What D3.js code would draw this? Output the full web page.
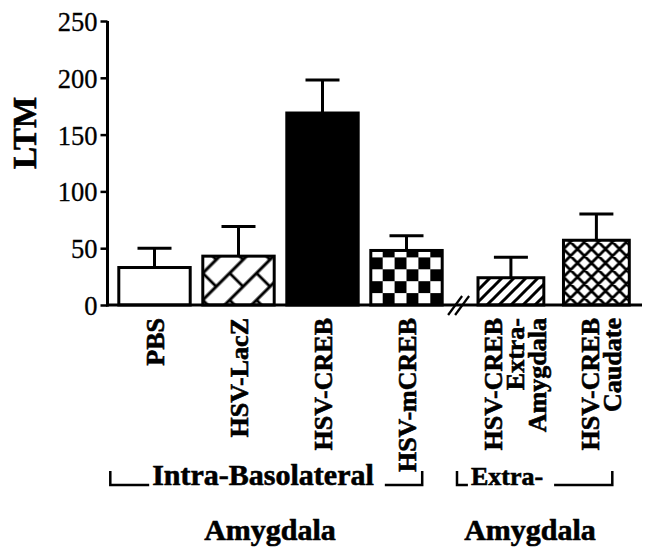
<!DOCTYPE html>
<html>
<head>
<meta charset="utf-8">
<script src="https://cdn.jsdelivr.net/npm/d3@7"></script>
<style>
  body { margin: 0; background: #fff; }
  svg { display: block; }
  text { font-family: "Liberation Serif", "Times New Roman", serif; fill: #000; }
</style>
</head>
<body>
<div id="chart"></div>
<script>
// values (LTM, mean and upward SEM)
var intraLabels = [['PBS'], ['HSV-LacZ'], ['HSV-CREB'], ['HSV-mCREB']];
var intraValues = [33, 43, 169, 48];
var intraErrors = [17, 26, 29, 13];

var extraLabels = [['HSV-CREB', 'Extra-', 'Amygdala'], ['HSV-CREB', 'Caudate']];
var extraValues = [24, 57];
var extraErrors = [18, 23];

var yTicks = [0, 50, 100, 150, 200, 250];
var groupTitles = [['Intra-Basolateral', 'Amygdala'], ['Extra-', 'Amygdala']];

var intraFills = ['#fff', 'url(#brick)', '#000', 'url(#checker)'];
var extraFills = ['url(#diag)', 'url(#cross)'];

var W = 646, H = 555;
var serif = '"Liberation Serif", "Times New Roman", serif';

var svg = d3.select('#chart').append('svg')
    .attr('width', W)
    .attr('height', H);

var y = d3.scaleLinear().domain([0, 250]).range([305, 21]);

var x1 = d3.scaleBand()
    .domain(d3.range(intraValues.length))
    .range([118.8, 442.2])
    .paddingInner(0.15)
    .paddingOuter(0);

var x2 = d3.scaleBand()
    .domain(d3.range(extraValues.length))
    .range([478, 629.3])
    .paddingInner(0.23)
    .paddingOuter(0);

// patterns
var defs = svg.append('defs');

var p = defs.append('pattern').attr('id', 'diag')
    .attr('patternUnits', 'userSpaceOnUse')
    .attr('width', 12).attr('height', 12);
p.append('path')
    .attr('d', 'M-3,15 L15,-3 M-3,3 L3,-3 M9,15 L15,9')
    .attr('stroke', '#000').attr('stroke-width', 3);

p = defs.append('pattern').attr('id', 'cross')
    .attr('patternUnits', 'userSpaceOnUse')
    .attr('x', x2(1)).attr('y', 305)
    .attr('width', 14).attr('height', 14);
p.append('path')
    .attr('d', 'M-2,16 L16,-2 M-2,2 L2,-2 M12,16 L16,12 M-2,-2 L16,16 M-2,12 L2,16 M12,-2 L16,2')
    .attr('stroke', '#000').attr('stroke-width', 2.8);

p = defs.append('pattern').attr('id', 'checker')
    .attr('patternUnits', 'userSpaceOnUse')
    .attr('x', x1(3)).attr('y', 305)
    .attr('width', x1.bandwidth() / 3).attr('height', x1.bandwidth() / 3);
var c = x1.bandwidth() / 6;
p.append('rect').attr('width', c).attr('height', c).attr('fill', '#000');
p.append('rect').attr('x', c).attr('y', c).attr('width', c).attr('height', c).attr('fill', '#000');

// brick bond turned 45 degrees: long "/" lines, staggered "\" joints
var bs = 19, bl = 38;
p = defs.append('pattern').attr('id', 'brick')
    .attr('patternUnits', 'userSpaceOnUse')
    .attr('patternTransform', 'translate(' + x1(1) + ',300) rotate(-45)')
    .attr('width', bl).attr('height', 2 * bs);
p.append('path')
    .attr('d', 'M-2,0H' + (bl + 2) + 'M-2,' + bs + 'H' + (bl + 2) + 'M-2,' + (2 * bs) + 'H' + (bl + 2) +
        'M0,0V' + bs + 'M' + bl + ',0V' + bs + 'M' + (bl / 2) + ',' + bs + 'V' + (2 * bs))
    .attr('stroke', '#000').attr('stroke-width', 2.8);

// draws one group of bars with their error bars
function drawGroup(x, values, errors, fills, cls) {
    var g = svg.append('g').attr('class', cls);
    var bw = x.bandwidth();

    g.selectAll('line.err')
        .data(values)
        .enter().append('line')
        .attr('class', 'err')
        .attr('x1', function(d, i) { return x(i) + bw / 2; })
        .attr('x2', function(d, i) { return x(i) + bw / 2; })
        .attr('y1', function(d) { return y(d); })
        .attr('y2', function(d, i) { return y(d + errors[i]); })
        .attr('stroke', '#000').attr('stroke-width', 3);

    g.selectAll('line.cap')
        .data(values)
        .enter().append('line')
        .attr('class', 'cap')
        .attr('x1', function(d, i) { return x(i) + bw / 2 - 17; })
        .attr('x2', function(d, i) { return x(i) + bw / 2 + 17; })
        .attr('y1', function(d, i) { return y(d + errors[i]); })
        .attr('y2', function(d, i) { return y(d + errors[i]); })
        .attr('stroke', '#000').attr('stroke-width', 3);

    g.selectAll('rect')
        .data(values)
        .enter().append('rect')
        .attr('x', function(d, i) { return x(i); })
        .attr('y', function(d) { return y(d); })
        .attr('width', bw)
        .attr('height', function(d) { return y(0) - y(d); })
        .attr('fill', function(d, i) { return fills[i]; })
        .attr('stroke', '#000')
        .attr('stroke-width', 3);
}

drawGroup(x1, intraValues, intraErrors, intraFills, 'intra');
drawGroup(x2, extraValues, extraErrors, extraFills, 'extra');

// y axis
var yAxis = svg.append('g')
    .attr('transform', 'translate(107.5,0)')
    .call(d3.axisLeft(y).tickValues(yTicks).tickSize(7).tickPadding(3));
yAxis.attr('font-family', null).attr('font-size', null);
yAxis.select('.domain').attr('stroke-width', 3).attr('d', 'M0,' + (y(0) + 1.5) + 'V' + y(250));
yAxis.selectAll('.tick line').attr('stroke-width', 2.5);
yAxis.selectAll('.tick text')
    .style('font-family', serif)
    .style('font-size', '26.5px')
    .attr('stroke', '#000').attr('stroke-width', 0.3)
    .attr('dy', '0.36em');

// x axis baseline and the break mark
svg.append('line')
    .attr('x1', 106).attr('x2', 642)
    .attr('y1', y(0)).attr('y2', y(0))
    .attr('stroke', '#000').attr('stroke-width', 3);

var bx = (x1.range()[1] + x2.range()[0]) / 2 - 5;
[0, 7].forEach(function(off) {
    svg.append('line')
        .attr('x1', bx - 7 + off).attr('y1', y(0) + 10)
        .attr('x2', bx + 7 + off).attr('y2', y(0) - 9)
        .attr('stroke', '#000').attr('stroke-width', 2.2);
});

// y title
svg.append('text')
    .attr('transform', 'translate(24,133) rotate(-90)')
    .attr('text-anchor', 'middle')
    .attr('dy', '0.35em')
    .style('font-family', serif)
    .style('font-size', '33px')
    .style('font-weight', 'bold')
    .attr('stroke', '#000').attr('stroke-width', 0.6)
    .text('LTM');

// rotated category labels
function drawLabels(x, labels, offset) {
    var bw = x.bandwidth();
    labels.forEach(function(lines, i) {
        var cx = x(i) + bw / 2 + (lines.length > 1 ? offset : 0);
        lines.forEach(function(line, j) {
            var lx = cx + (j - (lines.length - 1) / 2) * 22;
            svg.append('text')
                .attr('transform', 'translate(' + lx + ',318) rotate(-90)')
                .attr('text-anchor', 'end')
                .attr('dy', '0.36em')
                .style('font-family', serif)
                .style('font-size', '26px')
                .style('font-weight', 'bold')
                .attr('stroke', '#000').attr('stroke-width', 0.6)
                .text(line);
        });
    });
}
drawLabels(x1, intraLabels, 0);
drawLabels(x2, extraLabels, 4);

// group titles with bracket marks
function drawTitle(lines, left, right, cx1, cx2, font1) {
    var t = svg.append('text')
        .attr('x', cx1).attr('y', 485)
        .attr('text-anchor', 'middle')
        .style('font-family', serif)
        .style('font-size', font1 + 'px')
        .style('font-weight', 'bold')
        .attr('stroke', '#000').attr('stroke-width', 0.6)
        .text(lines[0]);
    svg.append('text')
        .attr('x', cx2).attr('y', 540)
        .attr('text-anchor', 'middle')
        .style('font-family', serif)
        .style('font-size', '30px')
        .style('font-weight', 'bold')
        .attr('stroke', '#000').attr('stroke-width', 0.6)
        .text(lines[1]);
    var b = t.node().getBBox();
    svg.append('path')
        .attr('d', 'M' + left + ',471V485H' + (b.x - 3))
        .attr('fill', 'none').attr('stroke', '#000').attr('stroke-width', 2.5);
    svg.append('path')
        .attr('d', 'M' + (b.x + b.width + 11) + ',485H' + right + 'V471')
        .attr('fill', 'none').attr('stroke', '#000').attr('stroke-width', 2.5);
}
drawTitle(groupTitles[0], x1.range()[0] - 8.5, x1.range()[1] - 20, 263, 270, 30);
drawTitle(groupTitles[1], x2.range()[0] - 21, x2.range()[1] - 17, 507, 530, 26);
</script>
</body>
</html>
